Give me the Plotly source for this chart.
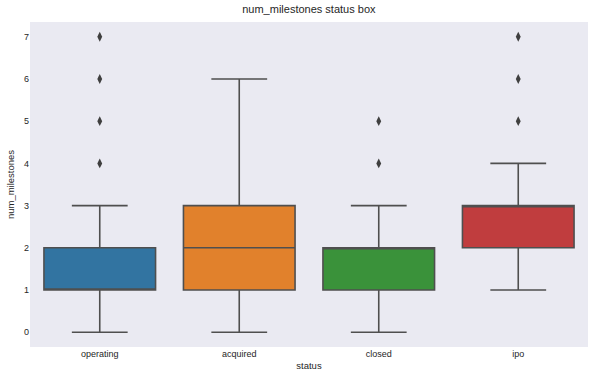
import plotly.graph_objects as go

categories = ["operating", "acquired", "closed", "ipo"]
q1 = [1, 1, 1, 2]
median = [1, 2, 2, 3]
q3 = [2, 3, 2, 3]
lower_whisker = [0, 0, 0, 1]
upper_whisker = [3, 6, 3, 4]
outliers = {
    "operating": [4, 5, 6, 7],
    "acquired": [],
    "closed": [4, 5],
    "ipo": [5, 6, 7],
}
colors = ["#3274a1", "#e1812c", "#3a923a", "#c03d3e"]
line_color = "#4f4f4f"

fig = go.Figure()
for i, cat in enumerate(categories):
    fig.add_trace(go.Box(
        x=[cat], q1=[q1[i]], median=[median[i]], q3=[q3[i]],
        lowerfence=[lower_whisker[i]], upperfence=[upper_whisker[i]],
        fillcolor=colors[i], line=dict(color=line_color, width=1.6),
        width=0.8, whiskerwidth=0.5, boxpoints=False, showlegend=False,
        hoverinfo="skip",
    ))
    if outliers[cat]:
        fig.add_trace(go.Scatter(
            x=[cat] * len(outliers[cat]), y=outliers[cat], mode="markers",
            marker=dict(symbol="diamond-tall", size=7, color="#3f3f3f"),
            showlegend=False, hoverinfo="skip",
        ))

fig.update_layout(
    width=594, height=380,
    margin=dict(l=30, r=6, t=22, b=33),
    paper_bgcolor="white", plot_bgcolor="#eaeaf2",
    font=dict(family="Liberation Sans, Arial, sans-serif", size=10, color="#262626"),
    title=dict(text="num_milestones status box", x=0.52, xanchor="center",
               y=0.975, yanchor="middle", font=dict(size=11, color="#262626")),
    xaxis=dict(type="category", categoryorder="array", categoryarray=categories,
               range=[-0.5, 3.5], showgrid=False, zeroline=False, showline=False,
               ticks="", title=dict(text="status", standoff=4, font=dict(size=9.5)),
               tickfont=dict(size=9)),
    yaxis=dict(range=[-0.35, 7.35], tickvals=[0, 1, 2, 3, 4, 5, 6, 7],
               showgrid=False, zeroline=False, showline=False, ticks="",
               title=dict(text="num_milestones", standoff=7, font=dict(size=9.5)),
               tickfont=dict(size=9)),
)

fig.write_html("out.html", post_script="document.body.style.margin='0';",
               config={"displayModeBar": False})
